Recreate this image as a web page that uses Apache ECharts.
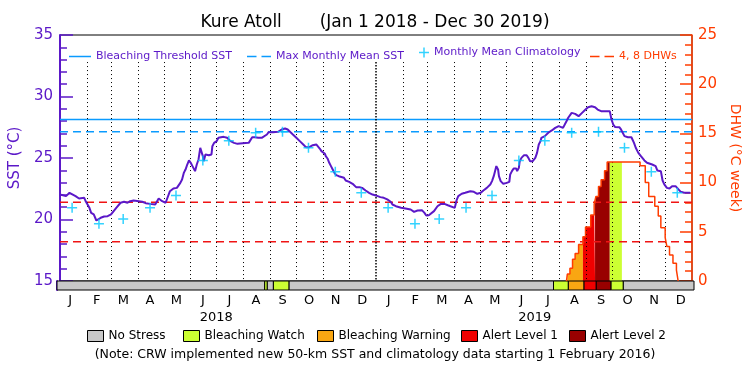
<!DOCTYPE html>
<html>
<head>
<meta charset="utf-8">
<script src="https://cdn.jsdelivr.net/npm/echarts@6/dist/echarts.min.js"></script>
<style>html,body{margin:0;padding:0;background:#fff}#chart{width:750px;height:375px}</style>
</head>
<body>
<div id="chart"></div>
<script>
// daily SST
const sstDates = [
  '2018-01-01','2018-01-08','2018-01-12','2018-01-19','2018-01-23','2018-01-29','2018-01-31','2018-02-04','2018-02-06','2018-02-09',
  '2018-02-12','2018-02-17','2018-02-21','2018-02-25','2018-03-01','2018-03-04','2018-03-07','2018-03-12','2018-03-16','2018-03-20',
  '2018-03-23','2018-03-27','2018-04-02','2018-04-06','2018-04-10','2018-04-15','2018-04-21','2018-04-25','2018-04-29','2018-05-03',
  '2018-05-05','2018-05-08','2018-05-12','2018-05-16','2018-05-20','2018-05-22','2018-05-24','2018-05-26','2018-05-28','2018-05-30',
  '2018-06-01','2018-06-03','2018-06-06','2018-06-08','2018-06-10','2018-06-12','2018-06-13','2018-06-15','2018-06-16','2018-06-18',
  '2018-06-20','2018-06-22','2018-06-25','2018-06-26','2018-06-28','2018-06-29','2018-07-01','2018-07-03','2018-07-05','2018-07-09',
  '2018-07-13','2018-07-17','2018-07-21','2018-07-25','2018-07-28','2018-08-03','2018-08-07','2018-08-09','2018-08-11','2018-08-14',
  '2018-08-18','2018-08-22','2018-08-24','2018-08-28','2018-08-30','2018-09-04','2018-09-10','2018-09-14','2018-09-18','2018-09-21',
  '2018-09-23','2018-09-27','2018-10-01','2018-10-05','2018-10-09','2018-10-12','2018-10-16','2018-10-20','2018-10-24','2018-10-26',
  '2018-10-28','2018-10-30','2018-11-03','2018-11-04','2018-11-06','2018-11-08','2018-11-10','2018-11-12','2018-11-14','2018-11-16',
  '2018-11-19','2018-11-25','2018-11-27','2018-12-01','2018-12-05','2018-12-09','2018-12-13','2018-12-16','2018-12-20','2018-12-24',
  '2018-12-28','2018-12-30','2019-01-03','2019-01-06','2019-01-10','2019-01-14','2019-01-18','2019-01-20','2019-01-24','2019-01-30',
  '2019-02-04','2019-02-10','2019-02-14','2019-02-18','2019-02-23','2019-02-26','2019-02-28','2019-03-03','2019-03-09','2019-03-13',
  '2019-03-17','2019-03-21','2019-03-25','2019-03-28','2019-04-02','2019-04-04','2019-04-06','2019-04-10','2019-04-14','2019-04-20',
  '2019-04-24','2019-04-28','2019-04-30','2019-05-02','2019-05-05','2019-05-09','2019-05-13','2019-05-15','2019-05-17','2019-05-19',
  '2019-05-20','2019-05-22','2019-05-23','2019-05-25','2019-05-28','2019-06-01','2019-06-04','2019-06-05','2019-06-07','2019-06-09',
  '2019-06-12','2019-06-13','2019-06-15','2019-06-16','2019-06-18','2019-06-21','2019-06-24','2019-06-26','2019-06-28','2019-07-01',
  '2019-07-04','2019-07-06','2019-07-08','2019-07-10','2019-07-11','2019-07-15','2019-07-19','2019-07-23','2019-07-27','2019-07-31',
  '2019-08-05','2019-08-07','2019-08-09','2019-08-11','2019-08-15','2019-08-19','2019-08-23','2019-08-27','2019-08-31','2019-09-03',
  '2019-09-07','2019-09-11','2019-09-14','2019-09-18','2019-09-20','2019-09-22','2019-09-28','2019-09-30','2019-10-02','2019-10-04',
  '2019-10-09','2019-10-11','2019-10-15','2019-10-19','2019-10-23','2019-10-26','2019-10-28','2019-10-31','2019-11-03','2019-11-07',
  '2019-11-10','2019-11-16','2019-11-20','2019-11-22','2019-11-26','2019-11-28','2019-11-30','2019-12-03','2019-12-06','2019-12-09',
  '2019-12-13','2019-12-15','2019-12-19','2019-12-23','2019-12-30'
];
const sstValues = [
  22.03,21.90,22.17,21.90,21.71,21.76,21.44,20.95,20.54,20.41,
  19.92,20.14,20.24,20.27,20.41,20.68,20.95,21.36,21.44,21.36,
  21.49,21.54,21.49,21.44,21.33,21.27,21.22,21.71,21.49,21.36,
  21.44,22.30,22.52,22.57,22.98,23.25,23.79,24.06,24.47,24.80,
  24.61,24.34,23.93,24.47,24.88,25.83,25.69,25.15,24.74,25.29,
  25.34,25.23,25.29,25.96,26.23,26.37,26.37,26.64,26.69,26.72,
  26.64,26.37,26.23,26.15,26.18,26.21,26.23,26.37,26.69,26.69,
  26.64,26.64,26.69,26.91,27.10,27.10,27.13,27.32,27.40,27.32,
  27.18,26.91,26.64,26.37,26.10,25.88,25.88,26.04,26.10,25.96,
  25.77,25.56,25.34,25.15,24.96,24.61,24.34,24.07,23.79,23.61,
  23.52,23.39,23.17,23.06,22.90,22.63,22.63,22.57,22.36,22.17,
  22.03,21.90,21.90,21.82,21.76,21.63,21.44,21.22,21.08,20.95,
  20.89,20.81,20.62,20.73,20.76,20.54,20.33,20.35,20.68,21.08,
  21.27,21.27,21.16,21.08,20.95,21.55,21.90,22.09,22.17,22.30,
  22.25,22.09,22.03,22.17,22.36,22.57,22.85,23.12,23.52,24.07,
  24.34,24.07,23.52,23.12,22.90,22.98,23.06,23.66,23.93,24.15,
  24.15,23.93,24.20,24.74,25.01,25.23,25.23,25.01,24.74,24.74,
  25.01,25.42,26.10,26.37,26.64,26.78,27.05,27.24,27.45,27.59,
  27.45,27.59,27.99,28.27,28.67,28.59,28.40,28.67,28.94,29.13,
  29.21,29.13,28.94,28.81,28.75,28.81,28.81,28.13,27.72,27.53,
  27.51,27.32,26.78,26.69,26.69,26.23,25.83,25.42,25.15,24.80,
  24.61,24.47,24.34,23.98,23.93,23.17,22.85,22.57,22.52,22.71,
  22.71,22.57,22.25,22.17,22.17
];

// monthly mean climatology, Jan..Dec
const climMonthly = [20.95, 19.65, 20.05, 20.95, 21.95, 24.80, 26.40, 27.05, 27.13, 25.83, 23.88, 22.17];
const climYears = [2018, 2019];
const bleachingThreshold = 28.13;
const maxMonthlyMean = 27.13;
const dhwMarks = [4, 8];

// degree heating weeks (steps)
const dhwDates = [
  '2019-08-09','2019-08-10','2019-08-13','2019-08-16','2019-08-19','2019-08-23','2019-08-28','2019-08-31','2019-09-06','2019-09-10',
  '2019-09-12','2019-09-15','2019-09-18','2019-09-22','2019-09-25','2019-11-02','2019-11-08','2019-11-12','2019-11-19','2019-11-23',
  '2019-11-26','2019-12-01','2019-12-03','2019-12-06','2019-12-10','2019-12-14','2019-12-16'
];
const dhwValues = [
  0, 0.7, 1.3, 2.2, 2.8, 3.7, 4.5, 5.5, 6.7, 7.8,
  8.6, 9.6, 10.3, 11.2, 12.1, 11.7, 10.0, 8.6, 7.6, 6.6,
  5.4, 4.4, 3.5, 2.65, 1.8, 1.1, 0
];

// bleaching alert area, level changes
const stressStarts = ['2018-01-01','2018-08-27','2018-08-30','2018-09-06','2018-09-24','2019-07-24','2019-08-10','2019-08-28','2019-09-11','2019-09-28','2019-10-12'];
const stressLevels = [0, 1, 0, 1, 0, 1, 2, 3, 4, 1, 0];
const stressNames = ['No Stress', 'Bleaching Watch', 'Bleaching Warning', 'Alert Level 1', 'Alert Level 2'];
const stressColors = ['#c8c8c8', '#ccff33', '#f9a612', '#f00000', '#990000'];

const monthLabels = ['J','F','M','A','M','J','J','A','S','O','N','D'];
const yearLabels = ['2018', '2019'];
const startDate = '2018-01-01';
const endDate = '2020-01-01';

const font = 'DejaVu Sans';
const purple = '#5b18c8';
const orange = '#ff3c00';
const blue = '#0a9bff';

function toTime(s) {
  const p = s.split('-');
  return new Date(+p[0], +p[1] - 1, +p[2]).getTime();
}

const tStart = toTime(startDate), tEnd = toTime(endDate);
const dhwTimes = dhwDates.map(toTime);
function dhwAt(t) {
  let v = 0;
  dhwTimes.forEach((d, i) => { if (d <= t) v = dhwValues[i]; });
  return v;
}

const segments = stressStarts.map((s, i) => [
  toTime(s), i + 1 < stressStarts.length ? toTime(stressStarts[i + 1]) : tEnd, stressLevels[i]
]);

// coloured fill under the DHW curve, one piece per alert period
const fillSeries = [];
segments.forEach(seg => {
  if (seg[2] === 0) return;
  const pts = [[seg[0], dhwAt(seg[0])]];
  dhwTimes.forEach((t, i) => { if (t > seg[0] && t < seg[1]) pts.push([t, dhwValues[i]]); });
  pts.push([seg[1], pts[pts.length - 1][1]]);
  if (pts.every(p => p[1] === 0)) return;
  fillSeries.push({
    name: stressNames[seg[2]], type: 'line', step: 'end', xAxisIndex: 0, yAxisIndex: 1,
    data: pts, symbol: 'none', silent: true, z: 1,
    lineStyle: { width: 0 }, areaStyle: { color: stressColors[seg[2]], opacity: 1 }
  });
});

// dotted month lines
const monthLines = [];
for (let y = 2018; y <= 2019; y++) {
  for (let m = 0; m < 12; m++) {
    if (y === 2018 && m === 0) continue;
    const t = new Date(y, m, 1).getTime();
    const yearLine = m === 0;
    monthLines.push([
      { coord: [t, 32.8], lineStyle: yearLine ? { width: 1.5, type: [1.5, 1.5] } : undefined },
      { coord: [t, 15] }
    ]);
  }
}

const climData = [];
climYears.forEach(y => climMonthly.forEach((v, m) => climData.push([new Date(y, m, 15).getTime(), v])));

const plusIcon = 'path://M8.5,0h3v8.5h8.5v3h-8.5v8.5h-3v-8.5h-8.5v-3h8.5z';
const dashIcon = 'path://M0,0h9.5v2h-9.5zM14.5,0h9.5v2h-9.5z';

function legendItem(name, left, top, w, h, icon, color, textColor, size, border) {
  return {
    left: left, top: top, padding: 0, itemGap: 0, itemWidth: w, itemHeight: h,
    selectedMode: false, symbolKeepAspect: false,
    textStyle: { fontFamily: font, fontSize: size, color: textColor },
    data: [{
      name: name, icon: icon,
      itemStyle: { color: color, borderColor: border ? '#000' : color, borderWidth: border ? 1 : 0 },
      textStyle: { color: textColor }
    }]
  };
}

const chart = echarts.init(document.getElementById('chart'));
chart.setOption({
  animation: false,
  backgroundColor: '#fff',
  title: [{
    text: 'Kure Atoll       (Jan 1 2018 - Dec 30 2019)',
    left: 'center', top: 14, padding: 0,
    textStyle: { fontFamily: font, fontSize: 17, fontWeight: 'normal', color: '#000' }
  }, {
    text: '(Note: CRW implemented new 50-km SST and climatology data starting 1 February 2016)',
    left: 'center', top: 348, padding: 0,
    textStyle: { fontFamily: font, fontSize: 12.5, fontWeight: 'normal', color: '#000' }
  }],
  legend: [
    legendItem('Bleaching Threshold SST', 69, 51, 22, 1.5, 'rect', blue, purple, 11),
    legendItem('Max Monthly Mean SST', 247, 51, 24, 1.5, dashIcon, blue, purple, 11),
    legendItem('Monthly Mean Climatology', 419, 47, 10, 10, plusIcon, '#00c8ff', purple, 11),
    legendItem('4, 8 DHWs', 590, 51, 24, 1.5, dashIcon, orange, orange, 11),
    legendItem(stressNames[0], 87, 330, 16, 11, 'rect', stressColors[0], '#000', 12, true),
    legendItem(stressNames[1], 183, 330, 16, 11, 'rect', stressColors[1], '#000', 12, true),
    legendItem(stressNames[2], 317, 330, 16, 11, 'rect', stressColors[2], '#000', 12, true),
    legendItem(stressNames[3], 461, 330, 16, 11, 'rect', stressColors[3], '#000', 12, true),
    legendItem(stressNames[4], 569, 330, 16, 11, 'rect', stressColors[4], '#000', 12, true)
  ],
  grid: [
    { left: 57, right: 56, top: 35, height: 246, show: true, borderColor: '#000', borderWidth: 1, backgroundColor: 'transparent' },
    { left: 57, right: 56, top: 281, height: 9 }
  ],
  xAxis: [
    { type: 'time', gridIndex: 0, min: tStart, max: tEnd, show: false },
    { type: 'time', gridIndex: 1, min: tStart, max: tEnd, show: false },
    {
      type: 'category', gridIndex: 1, position: 'bottom',
      data: yearLabels.flatMap(() => monthLabels),
      axisLine: { show: false }, axisTick: { show: false },
      axisLabel: { interval: 0, margin: 4, color: '#000', fontFamily: font, fontSize: 13 }
    },
    {
      type: 'category', gridIndex: 1, position: 'bottom', offset: 17, data: yearLabels,
      axisLine: { show: false }, axisTick: { show: false },
      axisLabel: { interval: 0, margin: 4, color: '#000', fontFamily: font, fontSize: 13 }
    }
  ],
  yAxis: [
    {
      type: 'value', gridIndex: 0, position: 'left', min: 15, max: 35, interval: 5,
      name: 'SST (°C)', nameLocation: 'middle', nameGap: 32, nameRotate: 90,
      nameTextStyle: { color: purple, fontFamily: font, fontSize: 15 },
      axisLine: { show: true, lineStyle: { color: purple, width: 2 } },
      axisTick: { show: true, inside: true, length: 13, lineStyle: { color: purple, width: 1.5 } },
      minorTick: { show: true, splitNumber: 5, length: 7, lineStyle: { color: purple, width: 1.5 } },
      axisLabel: { color: purple, fontFamily: font, fontSize: 15, margin: 7 },
      splitLine: { show: false }
    },
    {
      type: 'value', gridIndex: 0, position: 'right', min: 0, max: 25, interval: 5,
      name: 'DHW (°C week)', nameLocation: 'middle', nameGap: 28, nameRotate: -90,
      nameTextStyle: { color: orange, fontFamily: font, fontSize: 14 },
      axisLine: { show: true, lineStyle: { color: orange, width: 1.5 } },
      axisTick: { show: true, inside: true, length: 12, lineStyle: { color: orange, width: 1.5 } },
      minorTick: { show: true, splitNumber: 5, length: 7, lineStyle: { color: orange, width: 1.5 } },
      axisLabel: { color: orange, fontFamily: font, fontSize: 15, margin: 6 },
      splitLine: { show: false }
    },
    {
      type: 'value', gridIndex: 1, min: 0, max: 1, position: 'left',
      axisLine: { show: true, lineStyle: { color: purple, width: 2 } },
      axisTick: { show: false }, axisLabel: { show: false }, splitLine: { show: false }
    }
  ],
  series: fillSeries.concat([
    {
      name: 'Bleaching Threshold SST', type: 'line', xAxisIndex: 0, yAxisIndex: 0, z: 3,
      data: [[tStart, bleachingThreshold], [tEnd, bleachingThreshold]],
      symbol: 'none', silent: true, lineStyle: { color: blue, width: 1.5 }, itemStyle: { color: blue },
      markLine: {
        silent: true, symbol: ['none', 'none'], label: { show: false },
        lineStyle: { color: '#000', width: 1, type: [1, 3] },
        emphasis: { disabled: true },
        data: monthLines
      }
    },
    {
      name: 'Max Monthly Mean SST', type: 'line', xAxisIndex: 0, yAxisIndex: 0, z: 3,
      data: [[tStart, maxMonthlyMean], [tEnd, maxMonthlyMean]],
      symbol: 'none', silent: true, lineStyle: { color: blue, width: 1.5, type: [8, 5] }, itemStyle: { color: blue }
    }
  ], dhwMarks.map(v => ({
    name: '4, 8 DHWs', type: 'line', xAxisIndex: 0, yAxisIndex: 1, z: 3,
    data: [[tStart, v], [tEnd, v]],
    symbol: 'none', silent: true, lineStyle: { color: '#f01414', width: 1.5, type: [8, 5] }, itemStyle: { color: orange }
  })), [
    {
      name: 'DHW', type: 'line', step: 'end', xAxisIndex: 0, yAxisIndex: 1, z: 6,
      data: dhwDates.map((d, i) => [d, dhwValues[i]]),
      symbol: 'none', silent: true, lineStyle: { color: orange, width: 1.5 }
    },
    {
      name: 'SST', type: 'line', xAxisIndex: 0, yAxisIndex: 0, z: 7,
      data: sstDates.map((d, i) => [d, sstValues[i]]),
      symbol: 'none', silent: true, lineStyle: { color: purple, width: 2 }
    },
    {
      name: 'Monthly Mean Climatology', type: 'scatter', xAxisIndex: 0, yAxisIndex: 0, z: 8,
      data: climData, symbol: plusIcon, symbolSize: 10, silent: true,
      itemStyle: { color: '#00c8ff' }
    },
    {
      name: 'No Stress', type: 'custom', xAxisIndex: 1, yAxisIndex: 2, silent: true,
      data: segments,
      encode: { x: [0, 1] },
      itemStyle: { color: stressColors[0] },
      renderItem: function (params, api) {
        const a = api.coord([api.value(0), 1]);
        const b = api.coord([api.value(1), 0]);
        return {
          type: 'rect',
          shape: { x: a[0], y: a[1], width: b[0] - a[0], height: b[1] - a[1] },
          style: { fill: stressColors[api.value(2)], stroke: '#000', lineWidth: 1 }
        };
      }
    }
  ])
});
</script>
</body>
</html>
